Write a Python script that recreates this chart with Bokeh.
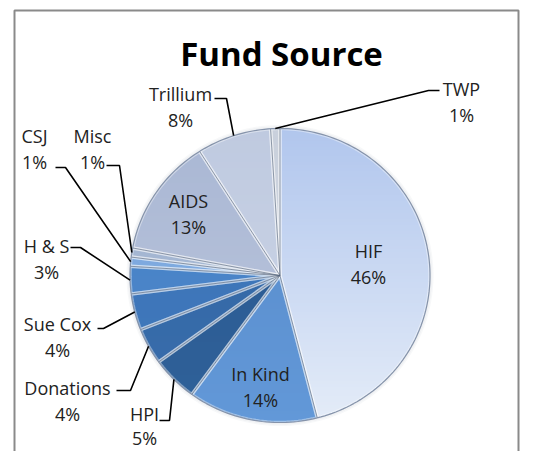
import numpy as np
from bokeh.plotting import figure
from bokeh.models import Range1d
from bokeh.embed import file_html
from bokeh.resources import INLINE
from bokeh.core.properties import value

# ---------------- data ----------------
title_text = "Fund Source"
categories = ["HIF", "In Kind", "HPI", "Donations", "Sue Cox", "H & S",
              "CSJ", "Misc", "AIDS", "Trillium", "TWP"]
percents = [46, 14, 5, 4, 4, 3, 1, 1, 13, 8, 1]
pct_labels = [f"{v}%" for v in percents]

# ---------------- styles ----------------
top_colors = ["#b1c6ed", "#578ac9", "#2a5890", "#3366a3", "#3b72b5", "#4680c4",
              "#78a4db", "#9fb2cf", "#a9b7d4", "#bfcae0", "#c9d0dc"]
bottom_colors = ["#e4ecf8", "#6298d8", "#2f6199", "#386dac", "#4079bd", "#4d88cc",
                 "#86b0e3", "#aabcd6", "#bcc6dc", "#cdd5e6", "#d3d8e1"]
font = "Open Sans"
text_col = "#222222"

# layout (screen pixels of the picture)
CX, CY, RX, RY = 279.5, 275, 150, 147
inside = {"HIF": (368, 250, 26), "In Kind": (260, 373, 26), "AIDS": (188, 200, 26)}
outside = {  # label centre, line gap, leader hook points
    "TWP": ((461, 88, 26), [(439, 90), (428, 90)]),
    "Trillium": ((180, 93, 26), [(214, 98), (226, 98)]),
    "HPI": ((144, 413, 24), [(159, 420), (169, 420)]),
    "Donations": ((67, 387, 26), [(116, 390), (130, 390)]),
    "Sue Cox": ((57, 323, 26), [(97, 328), (103, 328)]),
    "H & S": ((46, 245, 26), [(70, 247), (80, 247)]),
    "CSJ": ((34, 135, 26), [(55, 167), (65, 167)]),
    "Misc": ((92, 135, 26), [(106, 165), (119, 165)]),
}

W, H = 520, 451
PAGE_H = 467


def Y(sy):
    return PAGE_H - sy


p = figure(width=W, height=H, x_range=Range1d(0, W), y_range=Range1d(PAGE_H - H, PAGE_H),
           output_backend="svg", toolbar_location=None, min_border=0,
           x_axis_location=None, y_axis_location=None)
p.grid.visible = False
p.outline_line_color = None
p.background_fill_color = "white"
p.border_fill_color = "white"

cx, cy = CX, Y(CY)


def hex2rgb(h):
    h = h.lstrip("#")
    return np.array([int(h[i:i + 2], 16) for i in (0, 2, 4)], dtype=float)


def rgb2hex(c):
    c = np.clip(np.round(c), 0, 255).astype(int)
    return "#%02x%02x%02x" % tuple(c)


def edge(t, s=1.0):
    return cx + s * RX * np.sin(t), cy + s * RY * np.cos(t)


def wedge_poly(t0, t1):
    # t measured clockwise from 12 o'clock (radians)
    n = max(4, int(np.degrees(t1 - t0) / 1.5) + 2)
    ts = np.linspace(t0, t1, n)
    ex, ey = edge(ts)
    return list(zip([cx] + list(ex), [cy] + list(ey)))


def clip(poly, yv, keep_above):
    out = []
    n = len(poly)
    for i in range(n):
        a = poly[i]
        b = poly[(i + 1) % n]
        ina = (a[1] >= yv) if keep_above else (a[1] <= yv)
        inb = (b[1] >= yv) if keep_above else (b[1] <= yv)
        if ina:
            out.append(a)
        if ina != inb:
            t = (yv - a[1]) / (b[1] - a[1])
            out.append((a[0] + t * (b[0] - a[0]), yv))
    return out


fr = np.array(percents, dtype=float) / sum(percents)
ends = np.cumsum(fr) * 2 * np.pi
starts = ends - fr * 2 * np.pi
mids = (starts + ends) / 2

# soft shadow round the pie
ts = np.linspace(0, 2 * np.pi, 240)
for w, a in [(7, 0.05), (4, 0.08), (2, 0.12)]:
    ex, ey = edge(ts)
    p.line(list(ex), list(ey), line_color="#6a7488", line_alpha=a, line_width=w)

# gradient bands
bxs, bys, bcol = [], [], []
band = 3
for i in range(len(categories)):
    poly = wedge_poly(starts[i], ends[i])
    ctop, cbot = hex2rgb(top_colors[i]), hex2rgb(bottom_colors[i])
    y0 = cy - RY
    while y0 < cy + RY:
        y1 = y0 + band
        q = clip(clip(poly, y0 - 0.4, True), y1 + 0.4, False)
        if len(q) >= 3:
            f = ((y0 + y1) / 2 - (cy - RY)) / (2 * RY)
            bxs.append([pt[0] for pt in q])
            bys.append([pt[1] for pt in q])
            bcol.append(rgb2hex(cbot + (ctop - cbot) * f))
        y0 = y1
p.patches(bxs, bys, fill_color=bcol, line_color=None)

# bevel highlight along slice edges + separators
for i in range(len(categories)):
    poly = wedge_poly(starts[i], ends[i])
    p.patch([pt[0] for pt in poly], [pt[1] for pt in poly], fill_color=None,
            line_color="white", line_alpha=0.4, line_width=3.5)
sep_x, sep_y = [], []
for t in starts:
    ex, ey = edge(t)
    sep_x.append([cx, ex])
    sep_y.append([cy, ey])
p.multi_line(sep_x, sep_y, line_color="#56657c", line_alpha=0.65, line_width=1)
ex, ey = edge(ts)
p.line(list(ex), list(ey), line_color="#8593aa", line_width=1.2)

# inside labels
tx, ty, tt = [], [], []
for name, (lx, ly, gap) in inside.items():
    k = categories.index(name)
    tx += [lx, lx]
    ty += [Y(ly), Y(ly + gap)]
    tt += [name, pct_labels[k]]

# outside labels + leaders
lxs, lys = [], []
for name, ((lx, ly, gap), hook) in outside.items():
    k = categories.index(name)
    tx += [lx, lx]
    ty += [Y(ly), Y(ly + gap)]
    tt += [name, pct_labels[k]]
    ex, ey = edge(mids[k])
    lxs.append([h[0] for h in hook] + [ex])
    lys.append([Y(h[1]) for h in hook] + [ey])
p.multi_line(lxs, lys, line_color="black", line_width=1.6)
p.text(x=tx, y=ty, text=tt, text_font=value(font), text_font_size="18px",
       text_align="center", text_baseline="middle", text_color=text_col)

# title
p.text(x=[281], y=[Y(53)], text=[title_text], text_font=value(font), text_font_size="33px",
       text_font_style="bold", text_align="center", text_baseline="middle", text_color="black")

# chart border
p.multi_line([[14, 14, 518, 518]], [[Y(480), Y(10), Y(10), Y(480)]],
             line_color="#8a8a8a", line_width=2)

open("out.html", "w").write(file_html(p, INLINE))
